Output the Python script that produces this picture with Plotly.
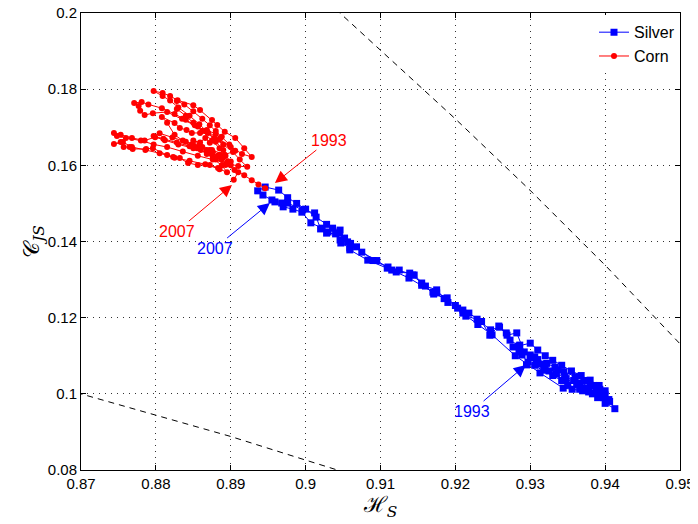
import plotly.graph_objects as go

# ---------------- data ----------------
silver_h = [0.9295,0.9306,0.9315,0.9325,0.9337,0.9346,0.9358,0.9366,0.9380,0.9390,0.9398,0.9405,0.9413,0.9400,0.9390,0.9378,0.9366,0.9350,0.9342,0.9330,
            0.9318,0.9306,0.9297,0.9289,0.9286,0.9277,0.9285,0.9300,0.9310,0.9322,0.9333,0.9345,0.9360,0.9372,0.9385,0.9393,0.9400,0.9406,0.9398,0.9388,
            0.9375,0.9362,0.9348,0.9335,0.9320,0.9308,0.9300,0.9292,0.9282,0.9269,0.9259,0.9247,0.9229,0.9214,0.9210,0.9203,0.9189,0.9175,0.9171,0.9155,
            0.9143,0.9139,0.9121,0.9109,0.9083,0.9059,0.9056,0.9046,0.9052,0.9046,0.9036,0.9030,0.9022,0.9007,0.8995,0.8983,0.8970,0.8959,0.8943,0.8936,
            0.8946,0.8964,0.8976,0.8988,0.9000,0.9014,0.9028,0.9045,0.9060,0.9075,0.9095,0.9115,0.9138,0.9155,0.9170,0.9185,0.9200,0.9218,0.9235,0.9246,
            0.9258,0.9268,0.9273,0.9285,0.9300,0.9310,0.9320,0.9330,0.9342,0.9355,0.9368,0.9380,0.9392,0.9400,0.9395,0.9383,0.9370,0.9356,0.9344,0.9313,
            0.9280,0.9249,0.9230,0.9210,0.9190,0.9175,0.9160,0.9145,0.9125,0.9110,0.9090,0.9068,0.9059,0.9047,0.9040,0.9028,0.9020,0.9012,0.8996,0.8976,
            0.8968,0.8955]
silver_c = [0.1076,0.1097,0.1078,0.1060,0.1063,0.1045,0.1035,0.1028,0.1020,0.1010,0.1000,0.0985,0.0961,0.0975,0.0990,0.1005,0.1012,0.1023,0.1035,0.1048,
            0.1062,0.1075,0.1083,0.1102,0.1128,0.1123,0.1110,0.1102,0.1090,0.1080,0.1070,0.1058,0.1045,0.1035,0.1022,0.1012,0.0997,0.0980,0.0990,0.1005,
            0.1015,0.1025,0.1040,0.1052,0.1068,0.1083,0.1095,0.1110,0.1160,0.1154,0.1175,0.1168,0.1196,0.1204,0.1220,0.1225,0.1252,0.1265,0.1262,0.1291,
            0.1312,0.1317,0.1320,0.1330,0.1351,0.1378,0.1399,0.1404,0.1409,0.1430,0.1435,0.1425,0.1435,0.1449,0.1477,0.1485,0.1491,0.1504,0.1522,0.1533,
            0.1543,0.1535,0.1515,0.1500,0.1485,0.1464,0.1445,0.1422,0.1395,0.1372,0.1350,0.1325,0.1304,0.1285,0.1267,0.1250,0.1232,0.1212,0.1190,0.1154,
            0.1178,0.1160,0.1141,0.1126,0.1133,0.1115,0.1100,0.1088,0.1075,0.1060,0.1048,0.1036,0.1022,0.1008,0.0998,0.1000,0.1008,0.1012,0.1015,0.1055,
            0.1100,0.1155,0.1182,0.1212,0.1240,0.1273,0.1283,0.1312,0.1325,0.1333,0.1350,0.1386,0.1383,0.1396,0.1420,0.1422,0.1433,0.1475,0.1483,0.1501,
            0.1501,0.1509]

corn_h = [0.8946,0.8937,0.8928,0.8918,0.8905,0.8893,0.8880,0.8868,0.8855,0.8848,0.8858,0.8872,0.8885,0.8890,0.8880,0.8870,0.8858,0.8845,0.8830,0.8819,
          0.8809,0.8797,0.8809,0.8819,0.8829,0.8850,0.8859,0.8875,0.8882,0.8892,0.8906,0.8918,0.8928,0.8915,0.8900,0.8885,0.8868,0.8852,0.8835,0.8815,
          0.8796,0.8785,0.8779,0.8777,0.8771,0.8781,0.8790,0.8808,0.8825,0.8840,0.8856,0.8866,0.8878,0.8890,0.8903,0.8912,0.8922,0.8910,0.8895,0.8876,
          0.8856,0.8836,0.8815,0.8797,0.8780,0.8760,0.8748,0.8744,0.8753,0.8768,0.8785,0.8799,0.8812,0.8830,0.8850,0.8868,0.8883,0.8896,0.8883,0.8872,
          0.8856,0.8843,0.8832,0.8823,0.8815,0.8796,0.8787,0.8769,0.8765,0.8757,0.8753,0.8744,0.8756,0.8768,0.8786,0.8805,0.8825,0.8845,0.8866,0.8885,
          0.8895,0.8888,0.8876,0.8868,0.8859,0.8850,0.8836,0.8825,0.8815,0.8808,0.8825,0.8832,0.8841,0.8848,0.8859,0.8868,0.8880,0.8886,0.8872,0.8866,
          0.8859,0.8850,0.8862,0.8876,0.8882,0.8890,0.8900,0.8893,0.8885,0.8875,0.8862,0.8850,0.8840,0.8828,0.8828,0.8838,0.8850,0.8862,0.8872,0.8880,
          0.8888,0.8898,0.8906,0.8892,0.8875,0.8858,0.8840,0.8822,0.8805,0.8797,0.8810,0.8828,0.8845,0.8860,0.8875,0.8888,0.8900,0.8910,0.8904]
corn_c = [0.1540,0.1550,0.1561,0.1574,0.1588,0.1601,0.1615,0.1630,0.1645,0.1655,0.1648,0.1640,0.1628,0.1640,0.1662,0.1685,0.1708,0.1730,0.1752,0.1770,
          0.1782,0.1795,0.1790,0.1782,0.1771,0.1758,0.1745,0.1719,0.1706,0.1688,0.1672,0.1645,0.1622,0.1630,0.1648,0.1668,0.1690,0.1705,0.1722,0.1740,
          0.1737,0.1732,0.1743,0.1756,0.1764,0.1766,0.1760,0.1750,0.1735,0.1720,0.1702,0.1690,0.1672,0.1655,0.1635,0.1615,0.1596,0.1598,0.1605,0.1615,
          0.1625,0.1636,0.1648,0.1655,0.1665,0.1672,0.1677,0.1685,0.1680,0.1672,0.1665,0.1674,0.1666,0.1655,0.1645,0.1635,0.1625,0.1610,0.1593,0.1601,
          0.1601,0.1606,0.1619,0.1622,0.1627,0.1645,0.1643,0.1643,0.1648,0.1648,0.1661,0.1656,0.1661,0.1648,0.1640,0.1632,0.1620,0.1612,0.1603,0.1590,
          0.1582,0.1600,0.1618,0.1640,0.1650,0.1653,0.1665,0.1680,0.1712,0.1727,0.1711,0.1698,0.1693,0.1685,0.1685,0.1693,0.1682,0.1672,0.1659,0.1672,
          0.1660,0.1665,0.1648,0.1635,0.1622,0.1622,0.1610,0.1625,0.1645,0.1665,0.1690,0.1712,0.1730,0.1748,0.1769,0.1760,0.1742,0.1722,0.1705,0.1690,
          0.1675,0.1655,0.1638,0.1628,0.1640,0.1652,0.1662,0.1673,0.1684,0.1677,0.1670,0.1660,0.1650,0.1640,0.1628,0.1615,0.1600,0.1582,0.1562]

# complexity bounds (dashed curves)
upper_h = [0.9030, 0.90458, 0.92016, 0.92995, 0.94019, 0.94971, 0.9520]
upper_c = [0.2030, 0.2000, 0.1719, 0.1535, 0.1334, 0.1137, 0.1090]
lower_h = [0.8680, 0.8700, 0.8800, 0.8900, 0.9000, 0.9043, 0.9070]
lower_c = [0.1011, 0.1000, 0.0945, 0.0888, 0.0826, 0.0800, 0.0783]

x_ticks = [0.87, 0.88, 0.89, 0.90, 0.91, 0.92, 0.93, 0.94, 0.95]
x_labels = ["0.87", "0.88", "0.89", "0.9", "0.91", "0.92", "0.93", "0.94", "0.95"]
y_ticks = [0.08, 0.10, 0.12, 0.14, 0.16, 0.18, 0.20]
y_labels = ["0.08", "0.1", "0.12", "0.14", "0.16", "0.18", "0.2"]

# annotations: (text, tip_h, tip_c, dx, dy, colour)
notes = [
    ("1993", 0.89590, 0.15536, 54, -43, "#ff0000"),
    ("2007", 0.89016, 0.15483, -55, 46, "#ff0000"),
    ("2007", 0.89523, 0.15011, -55, 45, "#0000ff"),
    ("1993", 0.92941, 0.10756, -54, 46, "#0000ff"),
]

FONT = "Liberation Sans, Arial, Helvetica, sans-serif"

fig = go.Figure()
for hx, cy in [(upper_h, upper_c), (lower_h, lower_c)]:
    fig.add_trace(go.Scatter(x=hx, y=cy, mode="lines", showlegend=False, hoverinfo="skip",
                             line=dict(color="black", width=1, dash="6px,5px")))

fig.add_trace(go.Scatter(x=silver_h, y=silver_c, mode="lines+markers", name="Silver",
                         line=dict(color="#0000ff", width=1),
                         marker=dict(symbol="square", size=7, color="#0000ff")))
fig.add_trace(go.Scatter(x=corn_h, y=corn_c, mode="lines+markers", name="Corn",
                         line=dict(color="#ff0000", width=1),
                         marker=dict(symbol="circle", size=6, color="#ff0000")))

for text, hx, cy, dx, dy, col in notes:
    fig.add_annotation(x=hx, y=cy, xref="x", yref="y", text=text, showarrow=True,
                       ax=dx, ay=dy, axref="pixel", ayref="pixel",
                       arrowhead=2, arrowsize=2.4, arrowwidth=1, arrowcolor=col,
                       font=dict(family=FONT, size=16, color=col))

axis_common = dict(showline=True, linecolor="black", linewidth=1, mirror="ticks",
                   ticks="inside", ticklen=5, tickcolor="black", automargin=False,
                   ticklabeloverflow="allow",
                   showgrid=True, gridcolor="#333333", gridwidth=1, griddash="1px,5px",
                   zeroline=False, tickfont=dict(family=FONT, size=15, color="black"))

fig.update_xaxes(range=[0.87, 0.95], tickvals=x_ticks, ticktext=x_labels,
                 title=dict(text="ℋ<sub><i>S</i></sub>", font=dict(family="DejaVu Serif", size=22, color="black"),
                            standoff=2),
                 **axis_common)
fig.update_yaxes(range=[0.08, 0.20], tickvals=y_ticks, ticktext=y_labels,
                 title=dict(text="𝒞<sub><i>JS</i></sub>", font=dict(family="DejaVu Serif", size=22, color="black"),
                            standoff=0),
                 **axis_common)

# the page adds an 8px body margin, so the figure is 8px smaller and the top/left margins shrink by 8
fig.update_layout(width=690, height=516, margin=dict(l=73, r=18, t=5, b=54, autoexpand=False),
                  paper_bgcolor="white", plot_bgcolor="white",
                  font=dict(family=FONT, color="black"),
                  legend=dict(x=1.0, y=0.995, xanchor="right", yanchor="top",
                              bgcolor="white", borderwidth=0,
                              font=dict(family=FONT, size=16, color="black"),
                              tracegroupgap=0))

fig.write_html("out.html")
